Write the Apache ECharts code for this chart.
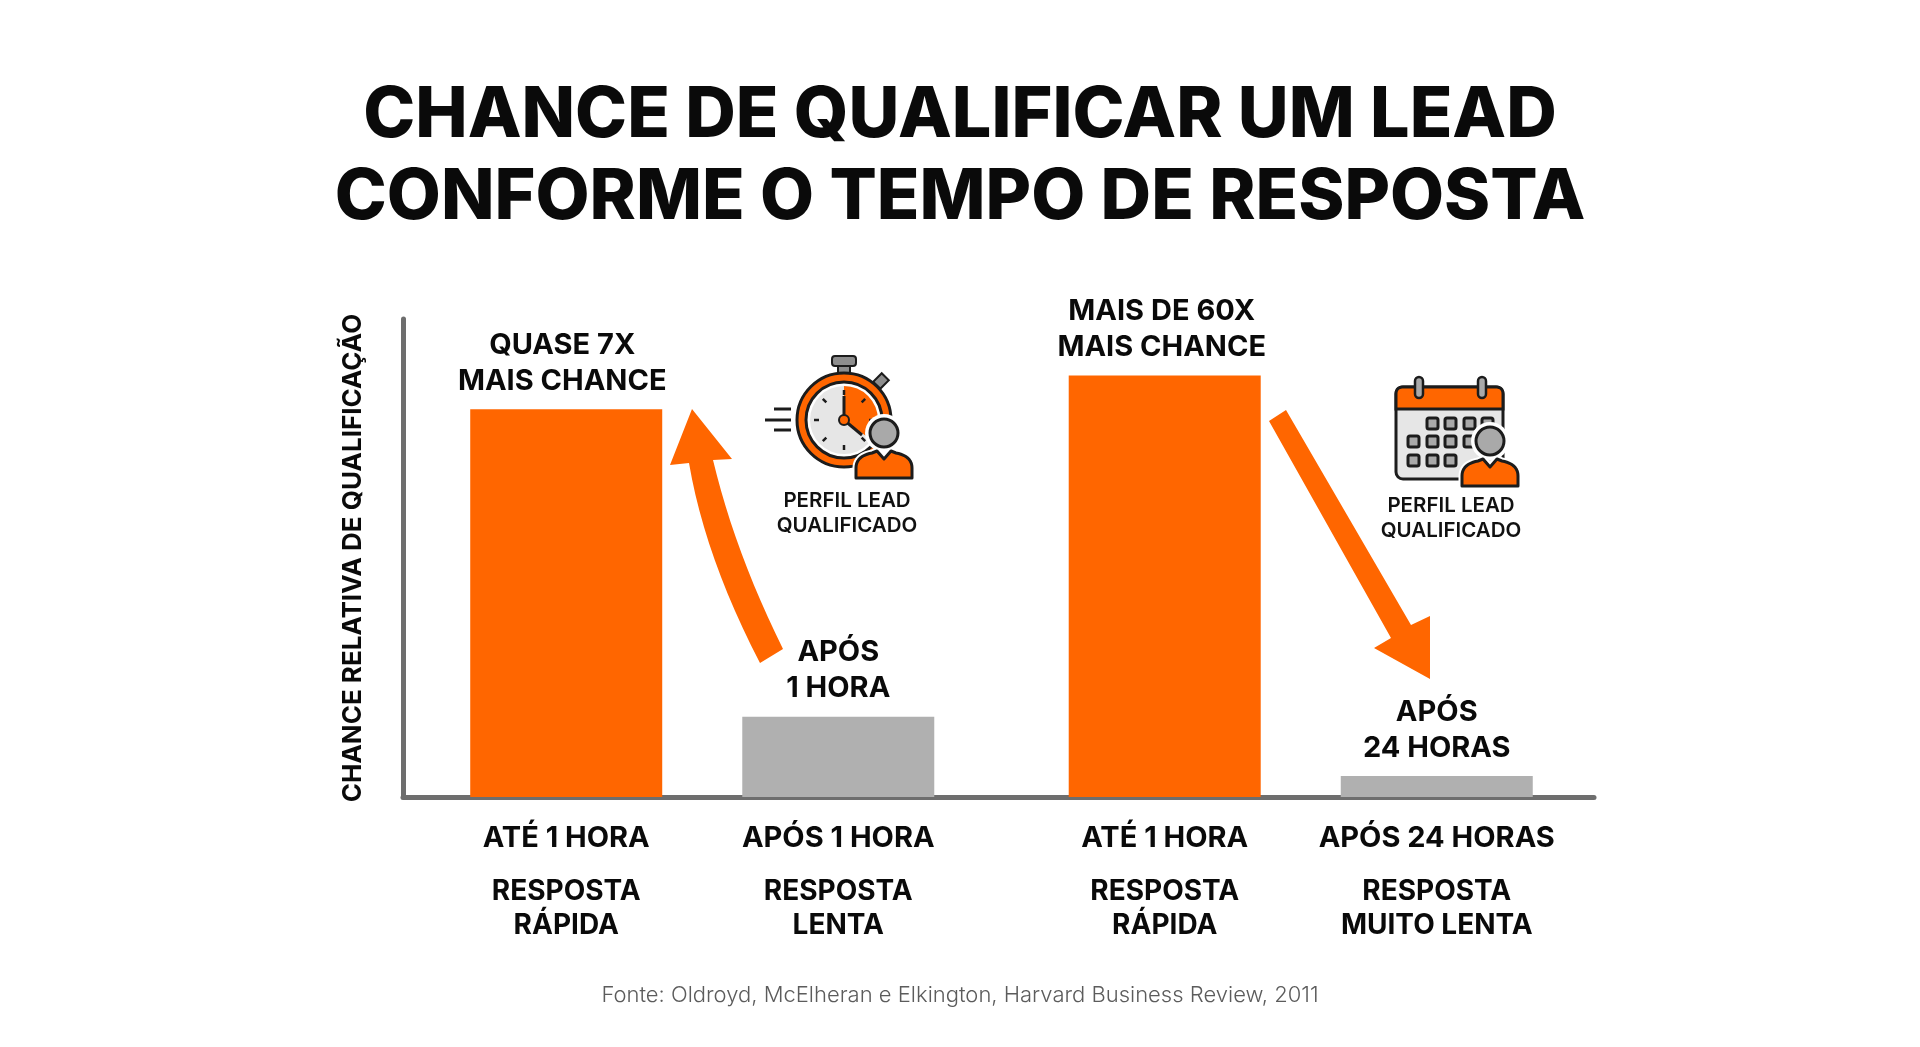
<!DOCTYPE html>
<html lang="pt">
<head>
  <meta charset="UTF-8">
  <title>Chance de qualificar um lead</title>
  <style>
    html, body { margin: 0; padding: 0; background: #fff; }
    #chart { width: 1920px; height: 1047px; }
  </style>
  <script src="https://cdn.jsdelivr.net/npm/echarts@6/dist/echarts.min.js"></script>
</head>
<body>
<div id="chart"></div>
<script>
  var chartTitle = 'CHANCE DE QUALIFICAR UM LEAD\nCONFORME O TEMPO DE RESPOSTA';
  var yAxisName = 'CHANCE RELATIVA DE QUALIFICAÇÃO';
  var sourceText = 'Fonte: Oldroyd, McElheran e Elkington, Harvard Business Review, 2011';
  var iconCaption = 'PERFIL LEAD\nQUALIFICADO';

  // posicao de cada barra no eixo (pares separados por um vao maior)
  var barSlots = [3, 8, 14, 19];
  var timeLabels = ['ATÉ 1 HORA', 'APÓS 1 HORA', 'ATÉ 1 HORA', 'APÓS 24 HORAS'];
  var speedLabels = ['RESPOSTA\nRÁPIDA', 'RESPOSTA\nLENTA', 'RESPOSTA\nRÁPIDA', 'RESPOSTA\nMUITO LENTA'];
  var barValues = [81.1, 16.8, 88.2, 4.4];
  var barNotes = ['QUASE 7X\nMAIS CHANCE', 'APÓS\n1 HORA', 'MAIS DE 60X\nMAIS CHANCE', 'APÓS\n24 HORAS'];
  var barColors = ['#ff6600', '#b0b0b0', '#ff6600', '#b0b0b0'];

  var ORANGE = '#ff6600', DARK = '#1c1c1c', GRAY = '#a9a9a9', LIGHT = '#e6e6e6';
  var FONT = 'Inter';

  var chart = echarts.init(document.getElementById('chart'));

  function axisLabelText(value) {
    var i = barSlots.indexOf(value);
    if (i < 0) return '';
    var lines = speedLabels[i].split('\n').map(function (s) { return '{b|' + s + '}'; });
    return '{a|' + timeLabels[i] + '}\n{g|}\n' + lines.join('\n');
  }

  // pontos de uma curva quadratica, o graphic nao tem 'path'
  function quad(p0, c, p1) {
    var pts = [];
    for (var k = 1; k <= 12; k++) {
      var t = k / 12, u = 1 - t;
      pts.push([u * u * p0[0] + 2 * u * t * c[0] + t * t * p1[0], u * u * p0[1] + 2 * u * t * c[1] + t * t * p1[1]]);
    }
    return pts;
  }

  function bodyPoints(cx, cy) {
    var t = cy + 18;
    return [[cx - 28, t + 27], [cx - 28, t + 17]]
      .concat(quad([cx - 28, t + 17], [cx - 28, t + 5], [cx - 12, t + 2]))
      .concat([[cx - 7, t], [cx, t + 8], [cx + 7, t], [cx + 12, t + 2]])
      .concat(quad([cx + 12, t + 2], [cx + 28, t + 5], [cx + 28, t + 17]))
      .concat([[cx + 28, t + 27]]);
  }

  // pessoa usada nos dois icones
  function person(cx, cy) {
    var pts = bodyPoints(cx, cy);
    return [
      { type: 'circle', shape: { cx: cx, cy: cy, r: 19 }, style: { fill: '#fff' } },
      { type: 'polygon', shape: { points: pts }, style: { fill: ORANGE, stroke: '#fff', lineWidth: 7, lineJoin: 'round' } },
      { type: 'polygon', shape: { points: pts }, style: { fill: ORANGE, stroke: DARK, lineWidth: 3, lineJoin: 'round' } },
      { type: 'circle', shape: { cx: cx, cy: cy, r: 14 }, style: { fill: GRAY, stroke: DARK, lineWidth: 3 } }
    ];
  }

  function stopwatchIcon() {
    var kids = [
      { type: 'line', shape: { x1: -70, y1: -11, x2: -53, y2: -11 }, style: { stroke: DARK, lineWidth: 3 } },
      { type: 'line', shape: { x1: -79, y1: 0, x2: -53, y2: 0 }, style: { stroke: DARK, lineWidth: 3 } },
      { type: 'line', shape: { x1: -70, y1: 10, x2: -53, y2: 10 }, style: { stroke: DARK, lineWidth: 3 } },
      { type: 'rect', shape: { x: -6, y: -55, width: 12, height: 9 }, style: { fill: '#8e8e8e', stroke: DARK, lineWidth: 2 } },
      { type: 'rect', shape: { x: -12, y: -64, width: 24, height: 10, r: 3 }, style: { fill: '#8e8e8e', stroke: DARK, lineWidth: 2 } },
      { type: 'rect', x: 37, y: -39, rotation: -Math.PI / 4, shape: { x: -5, y: -6, width: 10, height: 12 }, style: { fill: '#8e8e8e', stroke: DARK, lineWidth: 2 } },
      { type: 'circle', shape: { cx: 0, cy: 0, r: 47 }, style: { fill: ORANGE, stroke: DARK, lineWidth: 3 } },
      { type: 'circle', shape: { cx: 0, cy: 0, r: 38 }, style: { fill: '#fff', stroke: DARK, lineWidth: 3 } },
      { type: 'circle', shape: { cx: 0, cy: 0, r: 34 }, style: { fill: LIGHT } },
      { type: 'sector', shape: { cx: 0, cy: 0, r0: 0, r: 34, startAngle: -Math.PI / 2, endAngle: Math.PI / 5 }, style: { fill: ORANGE } }
    ];
    for (var a = 0; a < 8; a++) {
      var t = a * Math.PI / 4;
      kids.push({ type: 'line', shape: { x1: 25 * Math.cos(t), y1: 25 * Math.sin(t), x2: 30 * Math.cos(t), y2: 30 * Math.sin(t) }, style: { stroke: DARK, lineWidth: 2.5 } });
    }
    kids.push(
      { type: 'line', shape: { x1: 0, y1: 0, x2: 0, y2: -24 }, style: { stroke: DARK, lineWidth: 3 } },
      { type: 'line', shape: { x1: 0, y1: 0, x2: 18, y2: 15 }, style: { stroke: DARK, lineWidth: 3 } },
      { type: 'circle', shape: { cx: 0, cy: 0, r: 5 }, style: { fill: ORANGE, stroke: DARK, lineWidth: 2 } }
    );
    return { type: 'group', x: 844, y: 420, children: kids.concat(person(40, 13)) };
  }

  function calendarIcon() {
    var header = [[0, 22], [0, 7]].concat(quad([0, 7], [0, 0], [7, 0])).concat([[100, 0]])
      .concat(quad([100, 0], [107, 0], [107, 7])).concat([[107, 22]]);
    var kids = [
      { type: 'rect', shape: { x: 0, y: 0, width: 107, height: 92, r: 7 }, style: { fill: LIGHT, stroke: DARK, lineWidth: 3 } },
      { type: 'polygon', shape: { points: header }, style: { fill: ORANGE, stroke: DARK, lineWidth: 3 } },
      { type: 'rect', shape: { x: 19, y: -10, width: 8, height: 21, r: 4 }, style: { fill: GRAY, stroke: DARK, lineWidth: 2.5 } },
      { type: 'rect', shape: { x: 82, y: -10, width: 8, height: 21, r: 4 }, style: { fill: GRAY, stroke: DARK, lineWidth: 2.5 } }
    ];
    var rows = [[36, [36, 54, 73, 91]], [54, [17, 36, 54, 73]], [73, [17, 36, 54]]];
    rows.forEach(function (row) {
      row[1].forEach(function (x) {
        kids.push({ type: 'rect', shape: { x: x - 5, y: row[0] - 5, width: 11, height: 11, r: 2 }, style: { fill: GRAY, stroke: DARK, lineWidth: 3 } });
      });
    });
    return { type: 'group', x: 1396, y: 387, children: kids.concat(person(94, 54)) };
  }

  function caption(x, y) {
    return {
      type: 'text', x: x, y: y,
      style: { text: iconCaption, font: '600 20.5px ' + FONT, fill: '#111', align: 'center', verticalAlign: 'middle', lineHeight: 25 }
    };
  }

  var upArrow = [[689, 463], [670, 465], [692, 409], [732, 459], [713, 460]]
    .concat(quad([713, 460], [735, 552], [783, 649]))
    .concat([[760, 663]])
    .concat(quad([760, 663], [705, 557], [689, 463]));
  var downArrow = [[1269, 421], [1286, 410], [1411, 625], [1430, 616], [1430, 679], [1374, 648], [1391, 638]];

  // rotulos acima das barras: os dois laranja ficam um pouco a esquerda
  var noteShift = [[-4, 0], [0, 0], [-3, 0], [0, 0]];

  var option = {
    animation: false,
    backgroundColor: '#ffffff',
    textStyle: { fontFamily: FONT },
    title: [
      {
        text: chartTitle, left: 955, top: 70, textAlign: 'center',
        textStyle: { fontFamily: FONT, fontSize: 70, fontWeight: 800, color: '#0a0a0a', lineHeight: 82 }
      },
      {
        text: sourceText, left: 955, top: 979, textAlign: 'center',
        textStyle: { fontFamily: FONT, fontSize: 22, fontWeight: 300, color: '#5c5c5c' }
      }
    ],
    grid: { left: 403, top: 319, width: 1191, height: 478 },
    xAxis: {
      type: 'value', min: 0, max: 21.89,
      splitLine: { show: false },
      axisTick: { show: false },
      axisLine: { onZero: false, lineStyle: { color: '#6e6e6e', width: 5 } },
      axisLabel: {
        customValues: barSlots, margin: 24, formatter: axisLabelText,
        rich: {
          a: { fontFamily: FONT, fontSize: 29, fontWeight: 700, color: '#0a0a0a', lineHeight: 34, align: 'center' },
          g: { lineHeight: 20, fontSize: 10 },
          b: { fontFamily: FONT, fontSize: 28, fontWeight: 700, color: '#0a0a0a', lineHeight: 34, align: 'center' }
        }
      }
    },
    yAxis: {
      type: 'value', min: 0, max: 100,
      name: yAxisName, nameLocation: 'middle', nameGap: 37,
      nameTextStyle: { fontFamily: FONT, fontSize: 26, fontWeight: 700, color: '#0a0a0a' },
      splitLine: { show: false },
      axisTick: { show: false },
      axisLabel: { show: false },
      axisLine: { show: true, lineStyle: { color: '#6e6e6e', width: 5 } }
    },
    series: [{
      type: 'bar',
      barWidth: 192,
      data: barSlots.map(function (s, i) {
        return { value: [s, barValues[i]], itemStyle: { color: barColors[i] }, label: { offset: noteShift[i] } };
      }),
      label: {
        show: true, position: 'top', distance: 10,
        formatter: function (p) { return barNotes[p.dataIndex]; },
        fontFamily: FONT, fontSize: 29, fontWeight: 700, color: '#0a0a0a', lineHeight: 36
      },
      z: 1
    }],
    graphic: [
      { type: 'polygon', shape: { points: upArrow }, style: { fill: ORANGE } },
      { type: 'polygon', shape: { points: downArrow }, style: { fill: ORANGE } },
      stopwatchIcon(),
      caption(847, 513),
      calendarIcon(),
      caption(1451, 518)
    ]
  };

  chart.setOption(option);
</script>
</body>
</html>
